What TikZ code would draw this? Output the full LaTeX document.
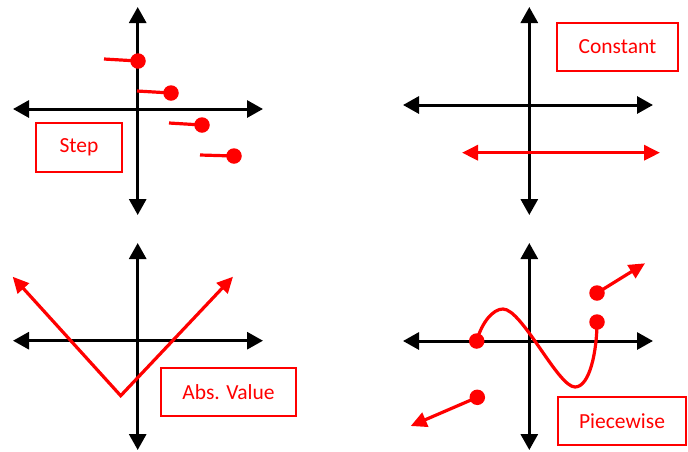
\documentclass[tikz,border=0pt]{standalone}
\usepackage{fontspec}
\setmainfont{Carlito}
\usetikzlibrary{arrows.meta}
\definecolor{gred}{RGB}{255,0,0}
\tikzset{
  axis/.style={line width=3pt, black, {Triangle[length=16pt,width=17pt]}-{Triangle[length=16pt,width=17pt]}},
  graph/.style={line width=3.2pt, gred},
  redtip/.style={-{Triangle[length=16pt,width=15pt]}},
  dotpt/.style={circle, fill=gred, inner sep=0pt, minimum size=15.5pt},
  label/.style={draw=gred, line width=1.5pt, text=gred, inner sep=0pt, font=\fontsize{21.5}{25}\selectfont}
}
\begin{document}
\begin{tikzpicture}[x=1pt,y=-1pt]
\useasboundingbox (0,0) rectangle (688,451);
% ---------- Step ----------
\coordinate (s1t) at (137.7,7); \coordinate (s1b) at (137.7,215);
\coordinate (s1l) at (13,109); \coordinate (s1r) at (263,109);
\draw[axis] (s1b) -- (s1t);
\draw[axis] (s1l) -- (s1r);
\node[dotpt] (d1) at (138,61) {};
\node[dotpt] (d2) at (171,93) {};
\node[dotpt] (d3) at (202,125) {};
\node[dotpt] (d4) at (234,156) {};
\coordinate (e1) at (104,59); \coordinate (e2) at (137,91);
\coordinate (e3) at (169,123); \coordinate (e4) at (200,155);
\draw[graph] (e1) -- (d1.center);
\draw[graph] (e2) -- (d2.center);
\draw[graph] (e3) -- (d3.center);
\draw[graph] (e4) -- (d4.center);
\node[label, minimum width=86pt, minimum height=49pt] (step) at (79,147.5) {Step};
% ---------- Constant ----------
\coordinate (c1t) at (529.3,7); \coordinate (c1b) at (529.3,215);
\coordinate (c1l) at (403,105); \coordinate (c1r) at (653,105);
\draw[axis] (c1b) -- (c1t);
\draw[axis] (c1l) -- (c1r);
\coordinate (cl) at (462,152.7); \coordinate (cr) at (660,152.7);
\draw[graph, {Triangle[length=16pt,width=15pt]}-{Triangle[length=16pt,width=15pt]}] (cl) -- (cr);
\node[label, minimum width=121pt, minimum height=48pt] (const) at (617.5,47) {Constant};
% ---------- Abs. Value ----------
\coordinate (a1t) at (137.7,243); \coordinate (a1b) at (137.7,450);
\coordinate (a1l) at (13,340.7); \coordinate (a1r) at (263,340.7);
\draw[axis] (a1b) -- (a1t);
\draw[axis] (a1l) -- (a1r);
\coordinate (av) at (120.7,395.7);
\coordinate (al) at (12.7,276.7); \coordinate (ar) at (233,276.7);
\draw[graph, {Triangle[length=16pt,width=15pt]}-{Triangle[length=16pt,width=15pt]}, line join=miter] (al) -- (av) -- (ar);
\node[label, minimum width=135pt, minimum height=48pt] (abs) at (228.5,392) {Abs. Value};
% ---------- Piecewise ----------
\coordinate (p1t) at (529.3,243); \coordinate (p1b) at (529.3,450);
\coordinate (p1l) at (403,341); \coordinate (p1r) at (653,341);
\draw[axis] (p1b) -- (p1t);
\draw[axis] (p1l) -- (p1r);
\node[dotpt] (q1) at (476.7,341) {};
\node[dotpt] (q2) at (597,322) {};
\node[dotpt] (q3) at (597,293) {};
\node[dotpt] (q4) at (477.3,397.3) {};
\coordinate (qa) at (645,263.3);
\coordinate (qb) at (410.7,426);
\draw[graph, redtip] (q3.center) -- (qa);
\draw[graph, redtip] (q4.center) -- (qb);
\draw[graph] (q1.center) .. controls (482,322) and (493,309) .. (503,309)
  .. controls (522,309) and (558,387) .. (575,387)
  .. controls (590,387) and (597,350) .. (q2.center);
\node[label, minimum width=128pt, minimum height=48pt] (pw) at (622,421) {Piecewise};
\end{tikzpicture}
\end{document}
